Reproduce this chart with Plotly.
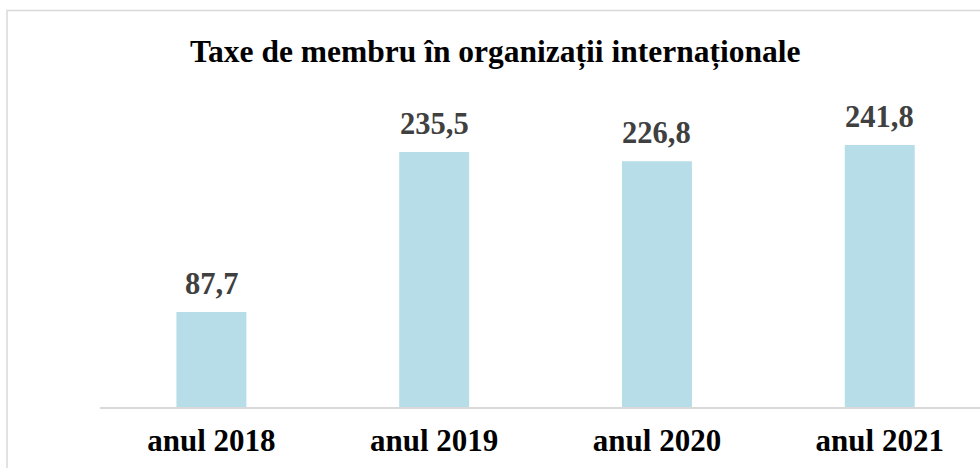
import plotly.graph_objects as go

# Chart data
categories = ["anul 2018", "anul 2019", "anul 2020", "anul 2021"]
values = [87.7, 235.5, 226.8, 241.8]
value_labels = ["87,7", "235,5", "226,8", "241,8"]
title_text = "Taxe de membru în organizații internaționale"

W, H = 980, 468
ML, MR, MT, MB = 100, 0, 82, 61
PW, PH = W - ML - MR, H - MT - MB

SERIF = "Liberation Serif, Times New Roman, serif"


def px_to_paper_x(px):
    return (px - ML) / PW


def px_to_paper_y(py):
    return (H - MB - py) / PH


fig = go.Figure()
fig.add_trace(go.Bar(
    x=list(range(len(categories))),
    y=values,
    width=0.314,
    marker=dict(color="#B7DDE8", line=dict(width=0)),
    hoverinfo="skip",
))

annotations = []
for i, (v, lab) in enumerate(zip(values, value_labels)):
    annotations.append(dict(
        x=i, y=v, xref="x", yref="y", text=f"<b>{lab}</b>",
        showarrow=False, yanchor="bottom", yshift=9,
        font=dict(family=SERIF, size=30.5, color="#404040"),
    ))

annotations.append(dict(
    x=px_to_paper_x(495), y=px_to_paper_y(52), xref="paper", yref="paper",
    text=f"<b>{title_text}</b>", showarrow=False,
    xanchor="center", yanchor="middle",
    font=dict(family=SERIF, size=31.5, color="#000000"),
))

shapes = [
    # outer chart border (left and top edges visible)
    dict(type="rect", xref="paper", yref="paper",
         x0=px_to_paper_x(7), x1=px_to_paper_x(1100),
         y0=px_to_paper_y(600), y1=px_to_paper_y(10.5),
         line=dict(color="#D9D9D9", width=1.5), fillcolor="rgba(0,0,0,0)",
         layer="below"),
]

fig.update_layout(
    width=W, height=H,
    margin=dict(l=ML, r=MR, t=MT, b=MB, pad=0),
    paper_bgcolor="white", plot_bgcolor="white",
    showlegend=False,
    annotations=annotations,
    shapes=shapes,
    xaxis=dict(
        range=[-0.5, 3.45],
        tickmode="array",
        tickvals=list(range(len(categories))),
        ticktext=[f"<b>{c}</b>" for c in categories],
        tickfont=dict(family=SERIF, size=31, color="#000000"),
        ticklabelstandoff=5,
        showline=True, linecolor="#D9D9D9", linewidth=1.5,
        showgrid=False, zeroline=False, ticks="", ticklen=0,
        fixedrange=True,
    ),
    yaxis=dict(
        range=[0, 300],
        visible=False,
        showgrid=False, zeroline=False,
        fixedrange=True,
    ),
)

fig.write_html("out.html", config={"displayModeBar": False})
